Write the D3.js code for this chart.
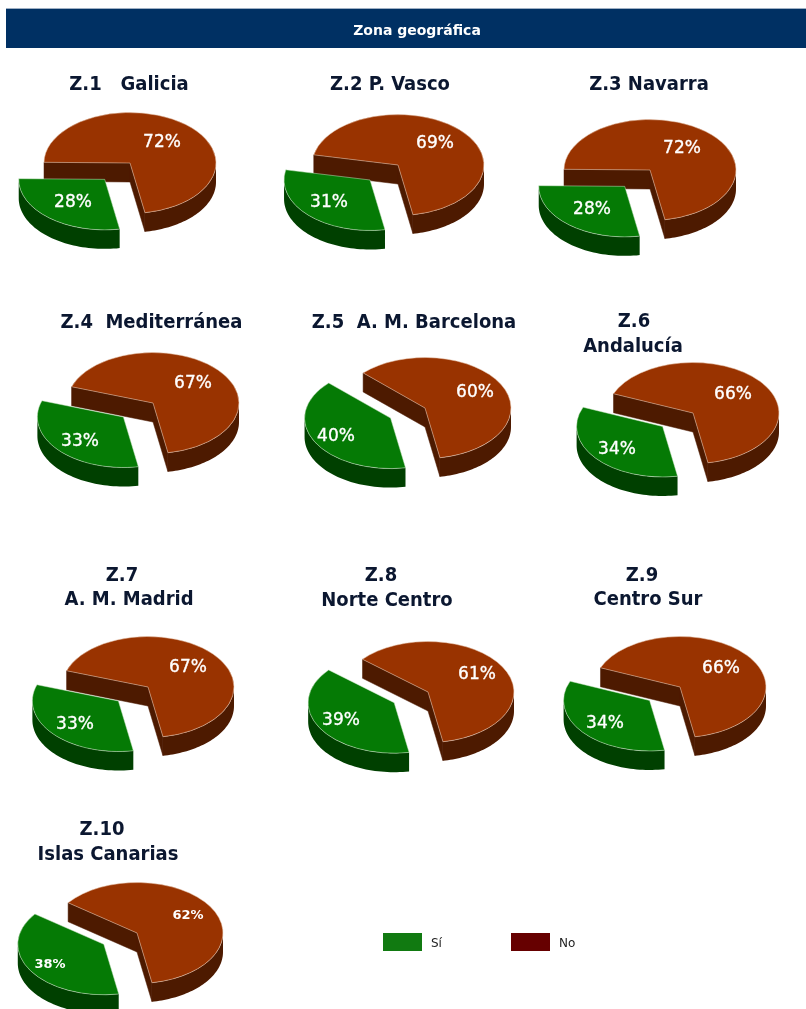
<!DOCTYPE html>
<html><head><meta charset="utf-8">
<script src="https://cdn.jsdelivr.net/npm/d3@7"></script>
<style>
html,body{margin:0;padding:0;background:#fff}
svg{display:block;filter:blur(0.35px)}
text{white-space:pre;font-family:"DejaVu Sans",sans-serif}
.title{font-weight:700;font-stretch:condensed;font-size:20px;fill:#0b1730;text-anchor:middle}
</style></head><body>
<svg id="c" width="806" height="1009"></svg>
<script>
// Data
const heading = "Zona geográfica";
const zoneTitles = [
  ["Z.1   Galicia"], ["Z.2 P. Vasco"], ["Z.3 Navarra"],
  ["Z.4  Mediterránea"], ["Z.5  A. M. Barcelona"], ["Z.6","Andalucía"],
  ["Z.7","A. M. Madrid"], ["Z.8","Norte Centro"], ["Z.9","Centro Sur"],
  ["Z.10","Islas Canarias"]
];
const siValues = [28,31,28,33,40,34,33,39,34,38];
const noValues = [72,69,72,67,60,66,67,61,66,62];
const legendLabels = ["Sí","No"];

// Layout
const pieCenters = [[130,163],[398,165],[650,170],[153,403],[425,408],[693,413],[148,687],[428,692],[680,687],[137,933]];
const titleAnchors = [
  [[129,90]],[[390,90]],[[649,90]],
  [[151.5,328]],[[414,328]],[[634,327],[633,352]],
  [[122,581],[129,605]],[[381,581],[387,606]],[[642,581],[648,605]],
  [[102,835],[108,860]]
];
const noLabelAt = [[162,141],[435,142],[682,147],[193,382],[475,391],[733,393],[188,666],[477,673],[721,667],[188,914]];
const siLabelAt = [[73,201],[329,201],[592,208],[80,440],[336,435],[617,448],[75,723],[341,719],[605,722],[50,963]];
const RX=86, RY=50.5, DEPTH=19, EX=39, EY=21.5;
const SPLIT = 170*Math.PI/180;
const colors = {si:{top:"#057a05",wall:"#004000"}, no:{top:"#993300",wall:"#4d1a00"}, edge:"#e8c8b0"};

const svg = d3.select("#c");
svg.append("rect").attr("x",6).attr("y",8).attr("width",800).attr("height",1).attr("fill","#9fb0c4");
svg.append("rect").attr("x",6).attr("y",9).attr("width",800).attr("height",39).attr("fill","#003063");
svg.append("text").attr("x",417).attr("y",35).attr("text-anchor","middle").attr("fill","#fff")
  .attr("font-size",14).attr("font-weight",700).text(heading);

const pie = d3.pie().sort(null).startAngle(SPLIT).endAngle(SPLIT+2*Math.PI);
const arc = d3.arc().innerRadius(0).outerRadius(1);
const px = a=>RX*Math.sin(a), py = a=>-RY*Math.cos(a);
const wallArea = d3.area().x(px).y0(py).y1(a=>py(a)+DEPTH);
const line = d3.line();

function frontRange(a0,a1){
  const T=2*Math.PI, out=[];
  for(const k of [0,1]){
    const lo=Math.max(a0,Math.PI/2+k*T), hi=Math.min(a1,3*Math.PI/2+k*T);
    if(hi>lo) out.push([lo,hi]);
  }
  return out;
}
function sample(r){ const n=48; return d3.range(n+1).map(i=>r[0]+(r[1]-r[0])*i/n); }

zoneTitles.forEach((lines,i)=>{
  const [cx,cy]=pieCenters[i];
  lines.forEach((t,j)=>{
    const [x,y]=titleAnchors[i][j];
    svg.append("text").attr("class","title").attr("x",x).attr("y",y).text(t);
  });
  const [si,no]=pie([siValues[i],noValues[i]]);
  const g=svg.append("g").attr("transform",`translate(${cx},${cy})`);

  // No slice: cut walls, rim, top
  const nog=g.append("g");
  [no.startAngle,no.endAngle].forEach(a=>{
    nog.append("path").attr("fill",colors.no.wall).attr("stroke",colors.no.wall).attr("stroke-width",.5)
      .attr("d",line([[0,0],[px(a),py(a)],[px(a),py(a)+DEPTH],[0,DEPTH]])+"Z");
  });
  frontRange(no.startAngle,no.endAngle).forEach(r=>{
    nog.append("path").attr("fill",colors.no.wall).attr("d",wallArea(sample(r)));
  });
  nog.append("path").attr("transform",`scale(${RX},${RY})`).attr("d",arc(no))
    .attr("fill",colors.no.top).attr("stroke",colors.edge).attr("stroke-width",.7)
    .attr("vector-effect","non-scaling-stroke").attr("stroke-opacity",.75);

  // Si slice pulled out along its mid angle
  const mid=(si.startAngle+si.endAngle)/2;
  const dx=EX*Math.sin(mid), dy=-EY*Math.cos(mid);
  const sig=g.append("g").attr("transform",`translate(${dx},${dy})`);
  frontRange(si.startAngle,si.endAngle).forEach(r=>{
    sig.append("path").attr("fill",colors.si.wall).attr("d",wallArea(sample(r)));
  });
  sig.append("path").attr("transform",`scale(${RX},${RY})`).attr("d",arc(si))
    .attr("fill",colors.si.top).attr("stroke","#cfe6c8").attr("stroke-width",.7)
    .attr("vector-effect","non-scaling-stroke").attr("stroke-opacity",.7);

  // Labels
  const small = i===9;
  const lab=(pos,v)=>{
    svg.append("text").attr("x",pos[0]).attr("y",pos[1]).attr("dy","0.36em")
      .attr("text-anchor","middle").attr("fill","#fff")
      .attr("font-size",small?13:17).attr("font-weight",small?700:400)
      .attr("stroke","#fff").attr("stroke-width",small?0:.35).text(v+"%");
  };
  lab(noLabelAt[i],no.value); lab(siLabelAt[i],si.value);
});

// Legend
const legendX = d3.scalePoint().domain(legendLabels).range([383,511]);
const legendFill = {"Sí":"#117a11","No":"#660000"};
legendLabels.forEach(l=>{
  svg.append("rect").attr("x",legendX(l)).attr("y",933).attr("width",39).attr("height",18)
    .attr("fill",legendFill[l]);
  svg.append("text").attr("x",legendX(l)+48).attr("y",946.5).attr("font-size",12).attr("fill","#222").text(l);
});
</script>
</body></html>
